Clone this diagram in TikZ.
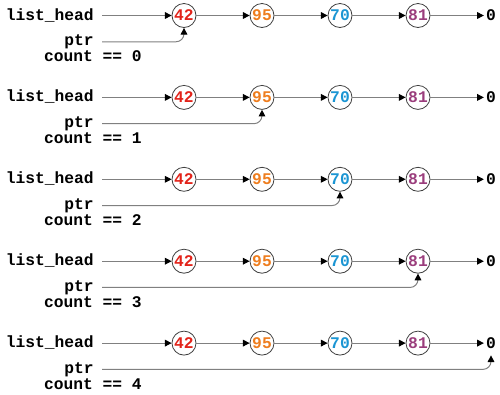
\documentclass[tikz,border=0pt]{standalone}
\usepackage{fontspec}
\setmonofont{Liberation Mono}
\usetikzlibrary{arrows.meta, positioning}

\definecolor{valred}{HTML}{E2231A}
\definecolor{valorange}{HTML}{EE7D1E}
\definecolor{valblue}{HTML}{1B95D3}
\definecolor{valpurple}{HTML}{9A3D7C}

\begin{document}
\begin{tikzpicture}[
                x=0.75pt, y=-0.75pt,
                every node/.style={inner sep=0pt, font=\ttfamily\bfseries\fontsize{12.2}{14}\selectfont},
                cell/.style={draw=black!75, circle, minimum size=18pt, line width=0.6pt},
                zero/.style={minimum height=18pt, inner xsep=1.5pt},
                link/.style={draw=black!50, line width=0.75pt, -{Triangle[length=5pt, width=5pt, color=black]}},
                ptrlink/.style={link, rounded corners=6pt}]
            \useasboundingbox (0,0) rectangle (500,394);
            % Une ligne par valeur de count
            \foreach \r in {0,...,4} {
                \pgfmathsetmacro{\yy}{15.5+81.9*\r}
                \pgfmathtruncatemacro{\k}{\r+1}
                % Etiquettes
                \node[anchor=base east] (head\r) at (94,\yy+4.5) {list\_head};
                \node[anchor=base east] (ptr\r) at (94,\yy+30) {ptr};
                \node[anchor=base east] (count\r) at (142,\yy+46) {count == \r};
                % Liste
                \node[cell, text=valred] (c\r-1) at (184,\yy) {42};
                \node[cell, text=valorange] (c\r-2) at (262,\yy) {95};
                \node[cell, text=valblue] (c\r-3) at (340,\yy) {70};
                \node[cell, text=valpurple] (c\r-4) at (418,\yy) {81};
                \node[zero] (c\r-5) at (491,\yy) {0};
                % Flèches
                \draw[link] ([xshift=6pt]head\r.east |- c\r-1.west) -- (c\r-1);
                \draw[link] (c\r-1) -- (c\r-2);
                \draw[link] (c\r-2) -- (c\r-3);
                \draw[link] (c\r-3) -- (c\r-4);
                \draw[link] (c\r-4) -- (c\r-5);
                \draw[ptrlink] ([xshift=6pt]ptr\r.east) -| (c\r-\k.south);
            }
        \end{tikzpicture}
\end{document}
